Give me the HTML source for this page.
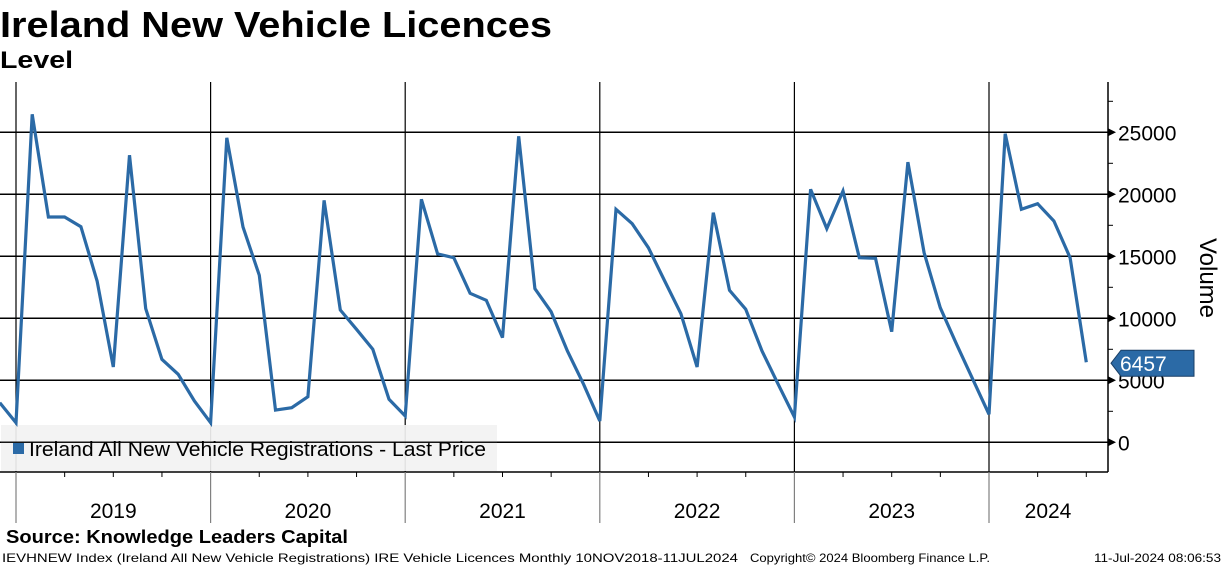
<!DOCTYPE html>
<html><head><meta charset="utf-8"><style>
html,body{margin:0;padding:0;background:#fff;}
svg{display:block;font-family:"Liberation Sans",sans-serif;}
</style></head><body>
<svg id="chart" width="1224" height="566" viewBox="0 0 1224 566" xmlns="http://www.w3.org/2000/svg">
<text x="0" y="37" font-size="36" font-weight="bold" textLength="552" lengthAdjust="spacingAndGlyphs">Ireland New Vehicle Licences</text>
<text x="0" y="68" font-size="24" font-weight="bold" textLength="73" lengthAdjust="spacingAndGlyphs">Level</text>
<g id="grid"></g>
<g id="xaxis"></g>
<g id="yaxis"></g>
<rect x="1" y="425" width="496" height="46" fill="#f2f2f2" opacity="0.92"/>
<line x1="0" y1="442.3" x2="1108" y2="442.3" stroke="#000" stroke-width="1.5" opacity="0.9"/>
<g id="series"></g>
<g>
<rect x="13" y="443" width="11" height="11" fill="#2b6aa6"/>
<text x="29" y="456" font-size="20" textLength="457" lengthAdjust="spacingAndGlyphs">Ireland All New Vehicle Registrations - Last Price</text>
</g>
<text transform="translate(1200,278) rotate(90)" font-size="24" text-anchor="middle">Volume</text>
<text x="6" y="543" font-size="18" font-weight="bold" textLength="342" lengthAdjust="spacingAndGlyphs">Source: Knowledge Leaders Capital</text>
<text x="2" y="562" font-size="12" textLength="736" lengthAdjust="spacingAndGlyphs">IEVHNEW Index (Ireland All New Vehicle Registrations) IRE Vehicle Licences  Monthly 10NOV2018-11JUL2024</text>
<text x="750" y="562" font-size="12" textLength="240" lengthAdjust="spacingAndGlyphs">Copyright© 2024 Bloomberg Finance L.P.</text>
<text x="1094" y="562" font-size="12" textLength="127" lengthAdjust="spacingAndGlyphs">11-Jul-2024 08:06:53</text>
</svg>
<script>
const years = ["2019","2020","2021","2022","2023","2024"];
const yTicks = [0,5000,10000,15000,20000,25000];
const values = [3190,1580,
26450,18170,18170,17390,13010,6070,23150,10780,6690,5480,3330,1580,
24560,17360,13470,2600,2790,3680,19510,10670,9110,7500,3470,2120,
19600,15190,14890,12020,11450,8440,24680,12390,10530,7360,4680,1720,
18790,17630,15690,13010,10370,6070,18520,12260,10730,7360,4680,2040,
20400,17230,20270,14890,14840,8920,22600,15290,10850,7900,5080,2260,
24890,18790,19240,17850,14890,6457];
const lastLabel = "6457";

const NS="http://www.w3.org/2000/svg";
const X0=16, MW=194.6/12, PLOT_R=1108, PLOT_T=82, PLOT_B=472;
function xOf(i){return X0+(i-1)*MW;}
function yOf(v){return 442.3-v*0.0124;}
function mk(tag,attrs,parent){const e=document.createElementNS(NS,tag);for(const k in attrs)e.setAttribute(k,attrs[k]);parent.appendChild(e);return e;}
const grid=document.getElementById('grid'), xa=document.getElementById('xaxis'), ya=document.getElementById('yaxis'), ser=document.getElementById('series');

yTicks.forEach(v=>{
  const l=mk('line',{x1:0,x2:PLOT_R,y1:yOf(v),y2:yOf(v),stroke:'#000','stroke-width':1.5},grid);
  
  
  const a=mk('polygon',{points:`${PLOT_R},${yOf(v)-4} ${PLOT_R+8},${yOf(v)} ${PLOT_R},${yOf(v)+4}`,fill:'#000'},ya);
  
  
  const t=mk('text',{x:PLOT_R+10,y:yOf(v)+8,'font-size':21},ya);
  t.textContent=String(v);
  
  
});
for(let v=2500;v<=27500;v+=5000){
  const m=mk('line',{x1:PLOT_R,x2:PLOT_R+5,y1:yOf(v),y2:yOf(v),stroke:'#000'},ya);
  
  
}
const ax=mk('line',{x1:PLOT_R,x2:PLOT_R,y1:PLOT_T,y2:PLOT_B,stroke:'#000','stroke-width':1.5},ya);


const bx=mk('line',{x1:0,x2:PLOT_R,y1:PLOT_B,y2:PLOT_B,stroke:'#000','stroke-width':1.5},xa);



years.forEach((y,k)=>{
  const xs=xOf(1+12*k);
  const g=mk('line',{x1:xs,x2:xs,y1:PLOT_T,y2:PLOT_B,stroke:'#000','stroke-width':1.2},grid);
  
  
  const d=mk('line',{x1:xs,x2:xs,y1:PLOT_B,y2:523,stroke:'#808080','stroke-width':1.2},xa);
  
  
  for(let q=1;q<4;q++){
    const qx=xs+q*3*MW;
    if(qx>PLOT_R)continue;
    const qt=mk('line',{x1:qx,x2:qx,y1:PLOT_B,y2:PLOT_B+5,stroke:'#000'},xa);
    
    
  }
  const xe=Math.min(xs+12*MW,PLOT_R);
  const t=mk('text',{x:(xs+xe)/2,y:518,'font-size':21,'text-anchor':'middle'},xa);
  if(k===5)t.setAttribute('x',1048);
  t.textContent=y;
  
  
});

const pts=values.map((v,i)=>`${xOf(i).toFixed(1)},${yOf(v).toFixed(1)}`).join(' ');
const pl=mk('polyline',{points:pts,fill:'none',stroke:'#2b6aa6','stroke-width':3.2,'stroke-linejoin':'miter'},ser);



const lv=values[values.length-1], ly=yOf(lv);
const tag=mk('polygon',{points:`1111,${ly+1} 1121,${ly-12} 1194,${ly-12} 1194,${ly+14} 1121,${ly+14}`,fill:'#2b6aa6',stroke:'#1a3f66','stroke-width':1},ser);


const tt=mk('text',{x:1120,y:ly+9,'font-size':21,fill:'#fff'},ser);
tt.textContent=lastLabel;


</script>
</body></html>
